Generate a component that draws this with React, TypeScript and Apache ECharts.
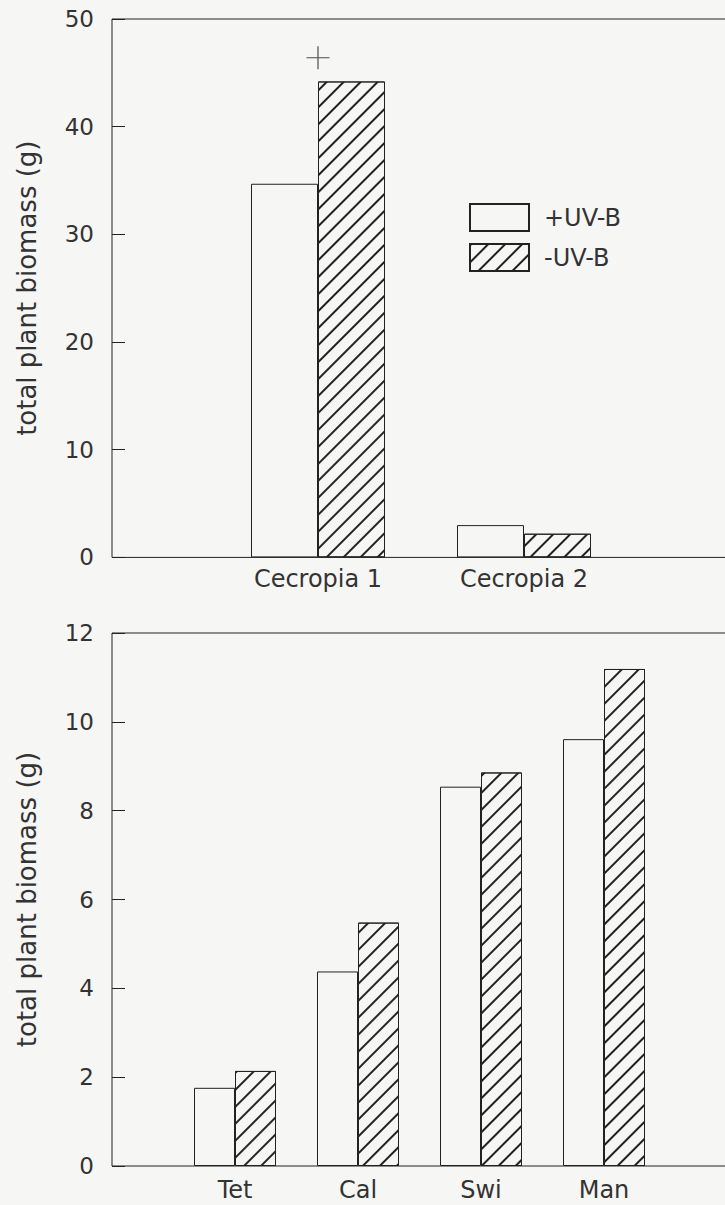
import React, { useEffect, useRef } from "react";
import * as echarts from "echarts";

// ---- data ----
const topCategories = ["", "Cecropia 1", "Cecropia 2", ""];
const topPlusUVB = [null, 34.7, 3.0, null];
const topMinusUVB = [null, 44.2, 2.2, null];
const topTicks = [0, 10, 20, 30, 40, 50];

const bottomCategories = ["", "Tet", "Cal", "Swi", "Man", ""];
const bottomPlusUVB = [null, 1.76, 4.38, 8.54, 9.61, null];
const bottomMinusUVB = [null, 2.14, 5.48, 8.86, 11.19, null];
const bottomTicks = [0, 2, 4, 6, 8, 10, 12];

const sigCategoryIndex = [1];
const sigLevels = [46.4];

const seriesNames = ["+UV-B", "-UV-B"];
const yTitle = "total plant biomass (g)";

const INK = "#222";
const TXT = "#333";
const BG = "#f6f6f4";
const FONT = "DejaVu Sans";

const hatch = {
  symbol: "rect",
  symbolSize: 1,
  dashArrayX: [1, 0],
  dashArrayY: [1.2, 10],
  rotation: -Math.PI / 4,
  color: INK,
  backgroundColor: BG,
};

export default function App() {
  const ref = useRef<HTMLDivElement>(null);
  useEffect(() => {
    if (!ref.current) return;
    const chart = echarts.init(ref.current, null, { renderer: "svg" });
    const yAxisCommon = (max: number, interval: number, idx: number) => ({
      type: "value",
      gridIndex: idx,
      min: 0,
      max,
      interval,
      name: yTitle,
      nameLocation: "middle",
      nameRotate: 90,
      nameGap: 72,
      nameTextStyle: { fontFamily: FONT, fontSize: 26, color: TXT },
      axisLine: { show: false },
      axisTick: { show: true, inside: true, length: 13, lineStyle: { color: INK } },
      splitLine: { show: false },
      axisLabel: { fontFamily: FONT, fontSize: 23, color: TXT, margin: 18 },
    });
    const xAxisCommon = (data: string[], idx: number, margin: number) => ({
      type: "category",
      gridIndex: idx,
      data,
      boundaryGap: false,
      axisLine: { show: false },
      axisTick: { show: false },
      splitLine: { show: false },
      axisLabel: { interval: 0, fontFamily: FONT, fontSize: 24, color: TXT, margin },
    });
    const barStyle = { color: BG, borderColor: INK, borderWidth: 1 };
    const hatchStyle = { color: BG, borderColor: INK, borderWidth: 1, decal: hatch };
    chart.setOption({
      animation: false,
      backgroundColor: BG,
      textStyle: { fontFamily: FONT },
      legend: {
        data: seriesNames,
        orient: "vertical",
        left: 464,
        top: 198,
        itemWidth: 59,
        itemHeight: 27,
        itemGap: 11,
        icon: "rect",
        textStyle: { fontFamily: FONT, fontSize: 24, color: TXT, padding: [0, 0, 0, 10] },
      },
      grid: [
        { left: 112, top: 19, width: 618, height: 538.4, outerBoundsMode: "none", containLabel: false, show: true, borderColor: INK, borderWidth: 1, backgroundColor: "transparent" },
        { left: 112, top: 633, width: 615, height: 533, outerBoundsMode: "none", containLabel: false, show: true, borderColor: INK, borderWidth: 1, backgroundColor: "transparent" },
      ],
      xAxis: [xAxisCommon(topCategories, 0, 10), xAxisCommon(bottomCategories, 1, 12)],
      yAxis: [yAxisCommon(topTicks[topTicks.length - 1], topTicks[1] - topTicks[0], 0), yAxisCommon(bottomTicks[bottomTicks.length - 1], bottomTicks[1] - bottomTicks[0], 1)],
      series: [
        { type: "bar", name: seriesNames[0], xAxisIndex: 0, yAxisIndex: 0, data: topPlusUVB, barWidth: 67, barGap: "0%", itemStyle: barStyle },
        { type: "bar", name: seriesNames[1], xAxisIndex: 0, yAxisIndex: 0, data: topMinusUVB, barWidth: 67, barGap: "0%", itemStyle: hatchStyle },
        { type: "bar", name: seriesNames[0], xAxisIndex: 1, yAxisIndex: 1, data: bottomPlusUVB, barWidth: 41, barGap: "0%", itemStyle: barStyle },
        { type: "bar", name: seriesNames[1], xAxisIndex: 1, yAxisIndex: 1, data: bottomMinusUVB, barWidth: 41, barGap: "0%", itemStyle: hatchStyle },
        {
          type: "scatter",
          name: "significance",
          xAxisIndex: 0,
          yAxisIndex: 0,
          data: sigCategoryIndex.map((c, i) => [c, sigLevels[i]]),
          symbol: "path://M0,10L20,10M10,0L10,20",
          symbolSize: 23,
          itemStyle: { color: "none", borderColor: INK, borderWidth: 1.2 },
          z: 5,
        },
      ],
    });
    return () => chart.dispose();
  }, []);
  return <div ref={ref} style={{ position: "absolute", left: 0, top: 0, width: 725, height: 1205 }} />;
}
